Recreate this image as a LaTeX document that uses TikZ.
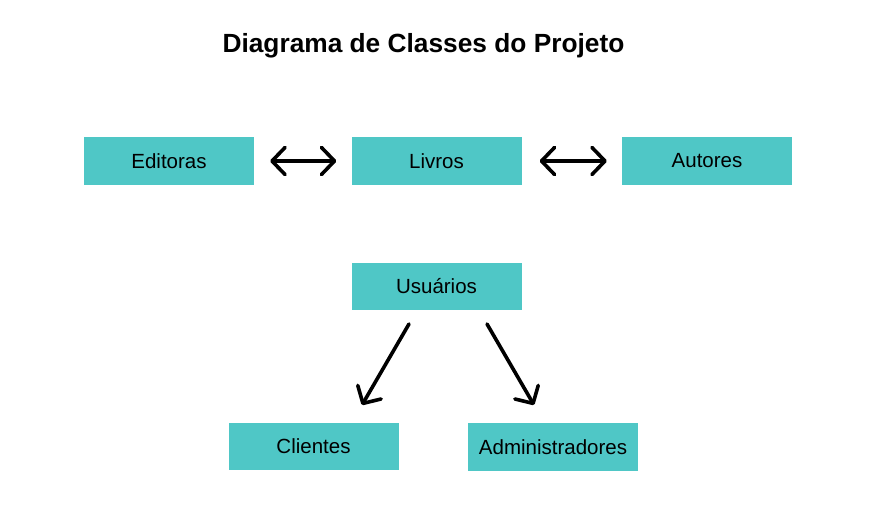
\documentclass[tikz,border=0pt]{standalone}
\usepackage{fontspec}
\setmainfont{Liberation Sans}
\usetikzlibrary{arrows.meta}
\definecolor{boxteal}{HTML}{4FC7C6}
\begin{document}
\begin{tikzpicture}[x=1pt,y=-1pt,
  box/.style={fill=boxteal,draw=none,minimum width=170pt,minimum height=48pt,inner sep=0pt,font=\fontsize{20.5}{24}\selectfont},
  conn/.style={line width=3.6pt,line cap=round,-{Straight Barb[length=13pt,width=27pt,line width=3.6pt,round]}},
  dconn/.style={line width=3.6pt,line cap=round,{Straight Barb[length=13pt,width=27pt,line width=3.6pt,round]}-{Straight Barb[length=13pt,width=27pt,line width=3.6pt,round]}}
]
\useasboundingbox (0,0) rectangle (876,521);
\node[font=\bfseries\fontsize{26.3}{30}\selectfont] (title) at (423.5,46) {Diagrama de Classes do Projeto};
\node[box] (edi) at (169,161) {Editoras};
\node[box] (liv) at (436.5,161) {Livros};
\node[box] (aut) at (707,161) {Autores};
\node[box,minimum height=47pt] (usu) at (436.5,286.5) {Usuários};
\node[box,minimum height=47pt] (cli) at (313.5,446.5) {Clientes};
\node[box] (adm) at (553,447) {Administradores};
\coordinate (c1s) at (409,324);
\coordinate (c1e) at (362,405);
\coordinate (c2s) at (487,324);
\coordinate (c2e) at (534,405);
\draw[dconn,shorten <=16pt,shorten >=15pt] (edi.east) -- (liv.west);
\draw[dconn,shorten <=18pt,shorten >=15pt] (liv.east) -- (aut.west);
\draw[conn] (c1s) -- (c1e);
\draw[conn] (c2s) -- (c2e);
\end{tikzpicture}
\end{document}
